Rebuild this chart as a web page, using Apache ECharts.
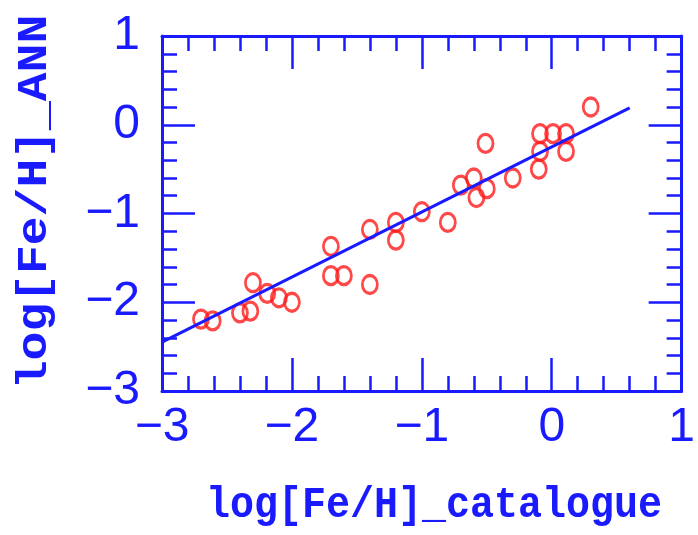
<!DOCTYPE html>
<html>
<head>
<meta charset="utf-8">
<script src="https://cdn.jsdelivr.net/npm/echarts@6/dist/echarts.min.js"></script>
<style>
html,body{margin:0;padding:0;background:#fff;}
#c{width:698px;height:535px;}
</style>
</head>
<body>
<div id="c"></div>
<script>
// catalogue metallicity (x) and ANN estimate (y)
var catalogueFeH = [0.30, -0.51, -0.09, 0.01, 0.11, 0.11, -0.09, -0.10, -0.60, -0.70, -0.58, -0.50, -0.30, -0.80, -1.00, -1.20, -1.20, -1.40, -1.40, -1.70, -1.70, -1.60, -2.30, -2.19, -2.10, -2.00, -2.32, -2.40, -2.70, -2.61];
var annFeH       = [0.20, -0.21, -0.10, -0.10, -0.10, -0.30, -0.30, -0.50, -0.60, -0.68, -0.82, -0.72, -0.60, -1.10, -0.98, -1.10, -1.30, -1.18, -1.80, -1.37, -1.70, -1.70, -1.78, -1.90, -1.95, -2.00, -2.10, -2.12, -2.19, -2.21];
// fitted line endpoints
var fitX = [-3.0, 0.6];
var fitY = [-2.45, 0.19];
// axes
var xTicks = [-3, -2, -1, 0, 1];
var yTicks = [-3, -2, -1, 0, 1];
var xTitle = 'log[Fe/H]_catalogue';
var yTitle = 'log[Fe/H]_ANN';

var BLUE = '#1a1aff';
var RED = '#ff1a1a';
var labelFont = '"Liberation Sans", Roboto, sans-serif';
var titleFont = 'bold 40px "Liberation Mono", "DejaVu Sans Mono", monospace';

function fmt(v){ return String(v).replace('-', '\u2212'); }

function mkAxis(pos, showLabel, min, max){
  return {
    type: 'value', position: pos, min: min, max: max, interval: 1,
    axisLine: {show: true, onZero: false, lineStyle: {color: BLUE, width: 3}},
    axisTick: {show: true, inside: true, length: 33, lineStyle: {color: BLUE, width: 2.5}},
    minorTick: {show: true, splitNumber: 5, length: 15, lineStyle: {color: BLUE, width: 2.5}},
    splitLine: {show: false},
    minorSplitLine: {show: false},
    axisLabel: {
      show: showLabel, color: BLUE, fontSize: 48, fontFamily: labelFont,
      margin: (pos === 'bottom') ? 13 : 22,
      formatter: fmt
    }
  };
}

var chart = echarts.init(document.getElementById('c'), null, {renderer: 'canvas'});
var pts = catalogueFeH.map(function(x, i){ return [x, annFeH[i]]; });
var fit = fitX.map(function(x, i){ return [x, fitY[i]]; });

chart.setOption({
  animation: false,
  backgroundColor: '#ffffff',
  grid: {left: 162, right: 10, top: 36, bottom: 144},
  xAxis: [mkAxis('bottom', true, xTicks[0], xTicks[xTicks.length-1]), mkAxis('top', false, xTicks[0], xTicks[xTicks.length-1])],
  yAxis: [mkAxis('left', true, yTicks[0], yTicks[yTicks.length-1]), mkAxis('right', false, yTicks[0], yTicks[yTicks.length-1])],
  series: [
    {
      type: 'line', data: fit, symbol: 'none', silent: true,
      lineStyle: {color: BLUE, width: 3}, z: 3
    },
    {
      type: 'scatter', data: pts,
      symbol: 'path://M0,-1A1,1,0,1,1,0,1A1,1,0,1,1,0,-1Z',
      symbolSize: [15, 18],
      itemStyle: {color: 'rgba(0,0,0,0)', borderColor: RED, borderWidth: 3},
      z: 2
    }
  ],
  graphic: [
    {
      type: 'text', x: 434, y: 506, scaleY: 1.1,
      style: {text: xTitle, font: titleFont, fill: BLUE, textAlign: 'center', textVerticalAlign: 'middle'}
    },
    {
      type: 'text', x: 35, y: 202, rotation: Math.PI/2, scaleX: 1.2, scaleY: 1.05,
      style: {text: yTitle, font: titleFont, fill: BLUE, textAlign: 'center', textVerticalAlign: 'middle'}
    }
  ]
});
</script>
</body>
</html>
